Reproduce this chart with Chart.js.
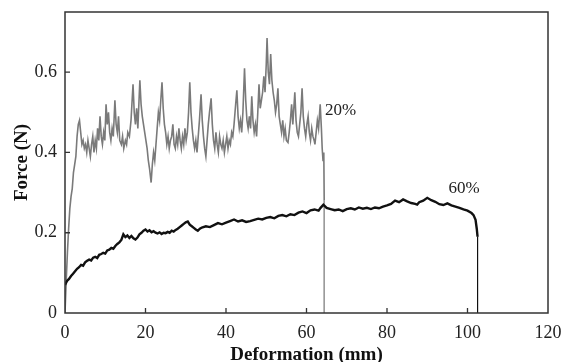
<!DOCTYPE html>
<html>
<head>
<meta charset="utf-8">
<script src="https://cdn.jsdelivr.net/npm/chart.js@4.4.1/dist/chart.umd.min.js"></script>
<style>
  html, body { margin: 0; padding: 0; background: #fff; }
</style>
</head>
<body>
<canvas id="forceChart" width="565" height="362"></canvas>
<script>
// axis ticks
const xTicks = [0, 20, 40, 60, 80, 100, 120];
const yTicks = [0, 0.2, 0.4, 0.6];

// 20% curve (deformation mm / force N)
const force20X = [0, 0.3, 0.6, 0.9, 1.2, 1.5, 1.8, 2.1, 2.4, 2.7, 3.0, 3.3, 3.6, 3.9, 4.2, 4.5, 4.8, 5.1, 5.4, 5.7,
  6.0, 6.3, 6.6, 6.9, 7.2, 7.5, 7.8, 8.1, 8.4, 8.7, 9.0, 9.3, 9.6, 9.9, 10.2, 10.5, 10.8, 11.1, 11.4, 11.7,
  12.0, 12.4, 12.7, 13.0, 13.3, 13.6, 14.0, 14.3, 14.6, 15.0, 15.3, 15.6, 16.0, 16.4, 16.9, 17.2, 17.5, 17.8, 18.1, 18.6,
  18.9, 19.2, 19.5, 19.8, 20.1, 20.4, 20.7, 21.0, 21.4, 21.7, 22.0, 22.3, 22.6, 22.9, 23.2, 23.5, 23.8, 24.1, 24.4, 24.7,
  25.0, 25.3, 25.6, 25.9, 26.2, 26.5, 26.8, 27.1, 27.4, 27.7, 28.0, 28.3, 28.6, 28.9, 29.2, 29.5, 29.8, 30.1, 30.4, 30.7,
  31.0, 31.3, 31.6, 31.9, 32.2, 32.5, 32.8, 33.1, 33.4, 33.8, 34.1, 34.4, 34.7, 35.0, 35.3, 35.6, 35.9, 36.3, 36.6, 36.9,
  37.2, 37.5, 37.8, 38.1, 38.4, 38.7, 39.0, 39.3, 39.6, 39.9, 40.2, 40.5, 40.8, 41.1, 41.4, 41.7, 42.0, 42.4, 42.7, 43.0,
  43.3, 43.6, 43.9, 44.2, 44.6, 44.9, 45.2, 45.5, 45.8, 46.1, 46.4, 46.7, 47.0, 47.3, 47.6, 47.9, 48.2, 48.5, 48.8, 49.1,
  49.4, 49.7, 50.0, 50.2, 50.5, 50.8, 51.1, 51.4, 51.7, 52.0, 52.3, 52.6, 52.9, 53.2, 53.5, 53.8, 54.1, 54.4, 54.7, 55.0,
  55.4, 55.7, 56.0, 56.3, 56.6, 57.1, 57.4, 57.7, 58.0, 58.3, 58.6, 58.9, 59.2, 59.5, 59.8, 60.1, 60.4, 60.7, 61.0, 61.3,
  61.6, 61.9, 62.1, 62.4, 62.7, 63.0, 63.4, 63.7, 63.9, 64.1, 64.3, 64.4, 64.4];
const force20Y = [0.00, 0.08, 0.15, 0.21, 0.26, 0.29, 0.31, 0.35, 0.37, 0.39, 0.44, 0.47, 0.48, 0.45, 0.42, 0.43, 0.41, 0.42, 0.40, 0.43,
  0.41, 0.39, 0.42, 0.44, 0.40, 0.43, 0.41, 0.46, 0.43, 0.49, 0.44, 0.42, 0.45, 0.43, 0.52, 0.47, 0.50, 0.45, 0.43, 0.46,
  0.44, 0.53, 0.47, 0.45, 0.49, 0.43, 0.42, 0.44, 0.41, 0.43, 0.42, 0.45, 0.44, 0.48, 0.57, 0.50, 0.47, 0.51, 0.46, 0.58,
  0.52, 0.49, 0.47, 0.45, 0.43, 0.41, 0.38, 0.36, 0.325, 0.37, 0.40, 0.38, 0.42, 0.46, 0.50, 0.48, 0.53, 0.575, 0.51, 0.47,
  0.45, 0.42, 0.44, 0.41, 0.43, 0.44, 0.47, 0.42, 0.41, 0.44, 0.42, 0.46, 0.43, 0.41, 0.44, 0.42, 0.46, 0.43, 0.45, 0.50,
  0.575, 0.50, 0.46, 0.43, 0.41, 0.43, 0.40, 0.44, 0.48, 0.545, 0.48, 0.44, 0.41, 0.39, 0.43, 0.47, 0.50, 0.535, 0.47, 0.43,
  0.41, 0.45, 0.42, 0.40, 0.44, 0.42, 0.41, 0.43, 0.40, 0.42, 0.44, 0.41, 0.43, 0.42, 0.45, 0.44, 0.47, 0.52, 0.555, 0.49,
  0.46, 0.48, 0.45, 0.50, 0.61, 0.53, 0.48, 0.46, 0.49, 0.46, 0.54, 0.48, 0.45, 0.47, 0.44, 0.50, 0.57, 0.51, 0.53, 0.55,
  0.59, 0.55, 0.62, 0.685, 0.60, 0.57, 0.645, 0.58, 0.55, 0.53, 0.50, 0.52, 0.56, 0.49, 0.47, 0.45, 0.48, 0.44, 0.46, 0.43,
  0.425, 0.45, 0.48, 0.52, 0.47, 0.55, 0.48, 0.45, 0.44, 0.47, 0.50, 0.56, 0.49, 0.46, 0.44, 0.47, 0.49, 0.45, 0.43, 0.46,
  0.44, 0.43, 0.42, 0.45, 0.48, 0.46, 0.52, 0.46, 0.41, 0.38, 0.40, 0.28, 0.00];

// 60% curve
const force60X = [0, 0.5, 1.0, 1.5, 2.0, 2.5, 3.0, 3.5, 4.0, 4.5, 5.0, 5.5, 6.0, 6.5, 7.0, 7.5, 8.0, 8.5, 9.0, 9.5,
  10.0, 10.5, 11.0, 11.5, 12.0, 12.5, 13.0, 13.5, 14.0, 14.5, 15.0, 15.5, 16.0, 16.5, 17.0, 17.5, 18.0, 18.5, 19.0, 19.5,
  20.0, 20.5, 21.0, 21.5, 22.0, 22.5, 23.0, 23.5, 24.0, 24.5, 25.0, 25.5, 26.0, 26.5, 27.0, 27.5, 28.0, 28.5, 29.0, 29.5,
  30.0, 30.5, 31.0, 31.5, 32.0, 32.5, 33.0, 33.5, 34.0, 35.0, 36.0, 37.0, 38.0, 39.0, 40.0, 41.0, 42.0, 43.0, 44.0, 45.0,
  46.0, 47.0, 48.0, 49.0, 50.0, 51.0, 52.0, 53.0, 54.0, 55.0, 56.0, 57.0, 58.0, 59.0, 60.0, 61.0, 62.0, 63.0, 63.5, 64.2,
  65.0, 66.0, 67.0, 68.0, 69.0, 70.0, 71.0, 72.0, 73.0, 74.0, 75.0, 76.0, 77.0, 78.0, 79.0, 80.0, 81.0, 82.0, 83.0, 84.0,
  85.0, 86.0, 87.0, 87.5, 88.0, 89.0, 90.0, 91.0, 92.0, 93.0, 94.0, 95.0, 96.0, 97.0, 98.0, 99.0, 100.0, 101.0, 101.5, 102.0,
  102.3, 102.5, 102.5];
const force60Y = [0.070, 0.080, 0.085, 0.092, 0.098, 0.104, 0.110, 0.114, 0.120, 0.118, 0.126, 0.130, 0.133, 0.131, 0.138, 0.140, 0.137, 0.145, 0.147, 0.150,
  0.148, 0.156, 0.158, 0.162, 0.160, 0.167, 0.172, 0.176, 0.182, 0.196, 0.189, 0.193, 0.187, 0.192, 0.186, 0.183, 0.188, 0.196, 0.200, 0.205,
  0.208, 0.203, 0.206, 0.201, 0.204, 0.200, 0.198, 0.201, 0.197, 0.200, 0.199, 0.202, 0.200, 0.205, 0.203, 0.207, 0.210, 0.214, 0.218, 0.222,
  0.226, 0.228, 0.220, 0.216, 0.212, 0.208, 0.205, 0.210, 0.213, 0.216, 0.214, 0.219, 0.224, 0.221, 0.225, 0.229, 0.233, 0.228, 0.231, 0.227,
  0.229, 0.232, 0.235, 0.233, 0.237, 0.239, 0.236, 0.242, 0.244, 0.241, 0.246, 0.244, 0.250, 0.253, 0.249, 0.256, 0.258, 0.255, 0.262, 0.270,
  0.262, 0.259, 0.256, 0.258, 0.254, 0.259, 0.261, 0.258, 0.263, 0.260, 0.262, 0.259, 0.263, 0.261, 0.265, 0.268, 0.272, 0.280, 0.276, 0.283,
  0.278, 0.274, 0.272, 0.270, 0.276, 0.280, 0.287, 0.281, 0.277, 0.271, 0.269, 0.273, 0.268, 0.265, 0.262, 0.258, 0.255, 0.249, 0.244, 0.232,
  0.210, 0.190, 0.000];

const seriesNames = ['60%', '20%'];

const serif = "'Liberation Serif', 'DejaVu Serif', serif";

function toPoints(xs, ys) {
    return xs.map((x, i) => ({ x: x, y: ys[i] }));
}

// frame, inward tick marks and curve labels
const framePlugin = {
    id: 'frame',
    afterDatasetsDraw(chart) {
        const { ctx, chartArea: a, scales } = chart;
        ctx.save();
        ctx.strokeStyle = '#333';
        ctx.lineWidth = 1.5;
        ctx.strokeRect(a.left, a.top, a.right - a.left, a.bottom - a.top);
        ctx.lineWidth = 1.3;
        ctx.beginPath();
        xTicks.slice(1, -1).forEach(v => {
            const px = scales.x.getPixelForValue(v);
            ctx.moveTo(px, a.bottom);
            ctx.lineTo(px, a.bottom - 5);
        });
        yTicks.slice(1).forEach(v => {
            const py = scales.y.getPixelForValue(v);
            ctx.moveTo(a.left, py);
            ctx.lineTo(a.left + 5, py);
        });
        ctx.stroke();
        ctx.fillStyle = '#222';
        ctx.font = '17px ' + serif;
        ctx.textBaseline = 'middle';
        ctx.textAlign = 'left';
        ctx.fillText(seriesNames[1], scales.x.getPixelForValue(64.6), scales.y.getPixelForValue(0.505));
        ctx.fillText(seriesNames[0], scales.x.getPixelForValue(95.3), scales.y.getPixelForValue(0.31));
        ctx.restore();
    }
};

new Chart(document.getElementById('forceChart'), {
    type: 'line',
    data: {
        datasets: [
            {
                label: seriesNames[0], data: toPoints(force60X, force60Y),
                borderColor: '#111', borderWidth: 2.4,
                segment: { borderWidth: c => c.p1.parsed.y === 0 ? 1 : undefined }
            },
            {
                label: seriesNames[1], data: toPoints(force20X, force20Y),
                borderColor: '#7a7a7a', borderWidth: 1.6,
                segment: {
                    borderWidth: c => c.p1.parsed.y === 0 ? 1 : undefined,
                    borderColor: c => c.p1.parsed.y === 0 ? '#9a9a9a' : undefined
                }
            }
        ]
    },
    options: {
        responsive: false,
        animation: false,
        devicePixelRatio: 1,
        layout: { padding: { top: 12, right: 17, left: 0, bottom: -3 } },
        elements: { point: { radius: 0 }, line: { tension: 0, borderJoinStyle: 'miter' } },
        plugins: { legend: { display: false }, tooltip: { enabled: false } },
        scales: {
            x: {
                type: 'linear', min: 0, max: 120,
                grid: { display: false, drawTicks: false },
                border: { display: false },
                afterBuildTicks: s => { s.ticks = xTicks.map(v => ({ value: v })); },
                ticks: { font: { family: serif, size: 18 }, color: '#222', padding: 9, maxRotation: 0, callback: v => String(v) },
                title: { display: true, text: 'Deformation (mm)', color: '#111', padding: 0,
                         font: { family: serif, size: 19, weight: 'bold', lineHeight: 1 } },
                afterFit: s => { s.height = 52; s.paddingLeft = 0; s.paddingRight = 0; }
            },
            y: {
                min: 0, max: 0.75,
                grid: { display: false, drawTicks: false },
                border: { display: false },
                afterBuildTicks: s => { s.ticks = yTicks.map(v => ({ value: v })); },
                ticks: { font: { family: serif, size: 18 }, color: '#222', padding: 8, callback: v => v === 0 ? '0' : v.toFixed(1) },
                title: { display: true, text: 'Force (N)', color: '#111', padding: { top: 13, bottom: 0 },
                         font: { family: serif, size: 19, weight: 'bold', lineHeight: 1 } },
                afterFit: s => { s.width = 65; s.paddingTop = 0; s.paddingBottom = 0; }
            }
        }
    },
    plugins: [framePlugin]
});
</script>
</body>
</html>
